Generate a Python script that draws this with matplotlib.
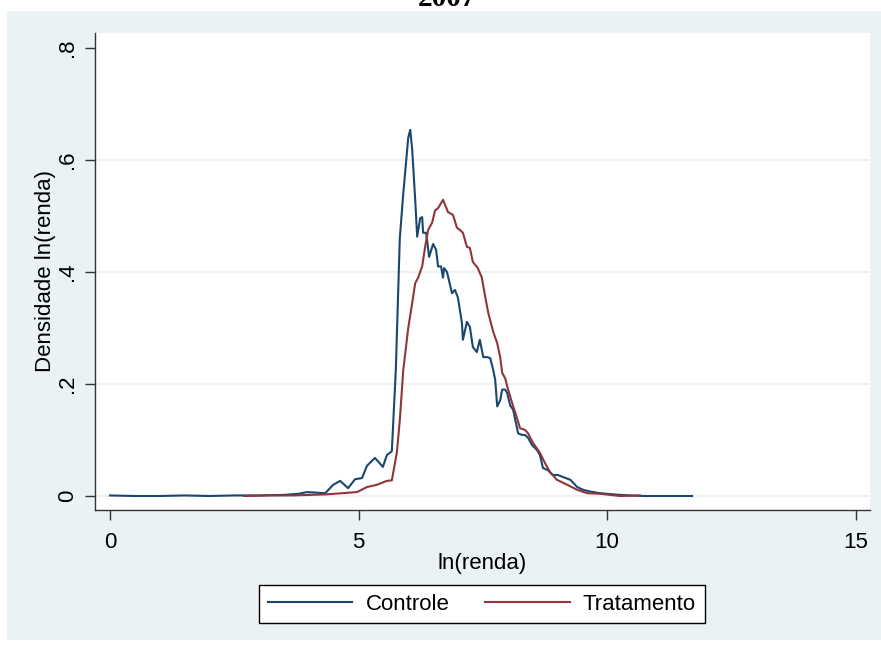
import matplotlib
matplotlib.use("Agg")
import matplotlib.pyplot as plt
from matplotlib.patches import Rectangle

# Kernel density of ln(renda)
controle_x = [0.0, 0.5, 1.0, 1.5, 2.0, 2.5, 3.0, 3.5, 3.8, 3.96, 4.33, 4.49, 4.63, 4.79,
              4.93, 5.07, 5.17, 5.33, 5.49, 5.57, 5.67, 5.75, 5.83, 5.90, 5.96, 6.00,
              6.04, 6.08, 6.14, 6.18, 6.24, 6.28, 6.30, 6.36, 6.42, 6.50, 6.56, 6.60,
              6.66, 6.70, 6.72, 6.78, 6.88, 6.94, 7.00, 7.08, 7.10, 7.18, 7.24, 7.30,
              7.38, 7.44, 7.51, 7.59, 7.65, 7.71, 7.75, 7.79, 7.85, 7.89, 7.95, 7.99,
              8.05, 8.11, 8.19, 8.21, 8.29, 8.35, 8.41, 8.49, 8.59, 8.65, 8.71, 8.81,
              8.91, 9.01, 9.11, 9.26, 9.40, 9.52, 9.66, 9.86, 10.26, 10.72, 11.2, 11.71]
controle_y = [0.001, 0.0, 0.0, 0.001, 0.0, 0.001, 0.001, 0.002, 0.004, 0.007, 0.005, 0.02,
              0.027, 0.014, 0.03, 0.032, 0.054, 0.068, 0.052, 0.073, 0.08, 0.225, 0.46,
              0.54, 0.60, 0.64, 0.654, 0.618, 0.529, 0.463, 0.496, 0.498, 0.47, 0.47,
              0.427, 0.45, 0.44, 0.41, 0.41, 0.39, 0.407, 0.40, 0.362, 0.368, 0.354,
              0.309, 0.279, 0.311, 0.302, 0.266, 0.257, 0.279, 0.248, 0.248, 0.246,
              0.225, 0.207, 0.16, 0.171, 0.19, 0.19, 0.184, 0.162, 0.154, 0.121, 0.112,
              0.109, 0.109, 0.104, 0.091, 0.082, 0.073, 0.05, 0.046, 0.0375, 0.0375,
              0.034, 0.029, 0.016, 0.011, 0.008, 0.005, 0.002, 0.0, 0.0, 0.0]

tratamento_x = [2.7, 3.16, 3.68, 4.37, 4.97, 5.17, 5.37, 5.57, 5.67, 5.77, 5.83, 5.90,
                6.00, 6.08, 6.14, 6.20, 6.28, 6.34, 6.40, 6.48, 6.54, 6.60, 6.64, 6.70,
                6.80, 6.90, 6.98, 7.04, 7.10, 7.18, 7.24, 7.30, 7.40, 7.48, 7.55, 7.61,
                7.71, 7.79, 7.85, 7.89, 7.95, 8.01, 8.09, 8.15, 8.25, 8.35, 8.41, 8.51,
                8.65, 8.75, 8.85, 8.99, 9.20, 9.40, 9.60, 9.86, 10.26, 10.66]
tratamento_y = [0.0, 0.001, 0.001, 0.003, 0.007, 0.016, 0.02, 0.027, 0.028, 0.077, 0.135,
                0.225, 0.30, 0.345, 0.38, 0.39, 0.41, 0.445, 0.475, 0.488, 0.51, 0.514,
                0.52, 0.529, 0.507, 0.502, 0.479, 0.475, 0.47, 0.445, 0.443, 0.418, 0.407,
                0.39, 0.355, 0.327, 0.293, 0.273, 0.248, 0.22, 0.21, 0.19, 0.166, 0.15,
                0.121, 0.118, 0.112, 0.095, 0.077, 0.059, 0.043, 0.029, 0.02, 0.011,
                0.005, 0.004, 0.0, 0.001]

xticks = [0, 5, 10, 15]
yticks = [0, 0.2, 0.4, 0.6, 0.8]
ytick_labels = ["0", ".2", ".4", ".6", ".8"]

bg = "#EAF2F3"
navy = "#1A476F"
maroon = "#90353B"
plt.rcParams['font.family'] = ['Liberation Sans', 'DejaVu Sans']
fs = 16

fig = plt.figure(figsize=(8.81, 6.48), dpi=100, facecolor="white")
W, H = 881, 648
fig.patches.append(Rectangle((7 / W, 8 / H), 1 - 7 / W, (640 - 11) / H,
                             transform=fig.transFigure, facecolor=bg,
                             edgecolor="none", zorder=-10))

ax = fig.add_axes([95 / W, (648 - 510) / H, 775 / W, 477 / H])
ax.set_zorder(1)
ax.set_facecolor("white")
ax.plot(controle_x, controle_y, color=navy, lw=1.5, label="Controle", zorder=3)
ax.plot(tratamento_x, tratamento_y, color=maroon, lw=1.5, label="Tratamento", zorder=3)

ax.set_xlim(-0.302, 15.29)
ax.set_ylim(-0.025, 0.8268)
ax.set_xticks(xticks)
ax.set_xticklabels([str(t) for t in xticks], fontsize=fs)
ax.set_yticks(yticks)
ax.set_yticklabels(ytick_labels, fontsize=fs, rotation=90, va="center")
ax.tick_params(length=7, width=1, color="#333333")
ax.tick_params(axis="x", pad=9)
ax.tick_params(axis="y", pad=5)

ax.grid(axis="y", color=bg, lw=1.5, zorder=1)
ax.get_ygridlines()[-1].set_visible(False)
ax.set_axisbelow(True)

for s in ["top", "right"]:
    ax.spines[s].set_visible(False)
for s in ["left", "bottom"]:
    ax.spines[s].set_color("#333333")
    ax.spines[s].set_linewidth(1)

ax.set_xlabel("ln(renda)", fontsize=fs, labelpad=0)
ax.set_ylabel("Densidade ln(renda)", fontsize=fs, labelpad=1)

leg = fig.legend(loc="center", bbox_to_anchor=(482 / W, (648 - 604) / H), ncol=2,
                 fontsize=fs, handlelength=3.8, handletextpad=0.6, columnspacing=1.6,
                 frameon=True, fancybox=False, framealpha=1, borderpad=0.4)
leg.get_frame().set_edgecolor("black")
leg.get_frame().set_linewidth(1)
leg.get_frame().set_facecolor("white")

fig.text(447 / W, (648 - 6) / H, "2007", fontsize=21, fontweight="bold",
         family="Liberation Serif", ha="center", va="baseline")

fig.savefig("out.png", dpi=100, facecolor=fig.get_facecolor())
